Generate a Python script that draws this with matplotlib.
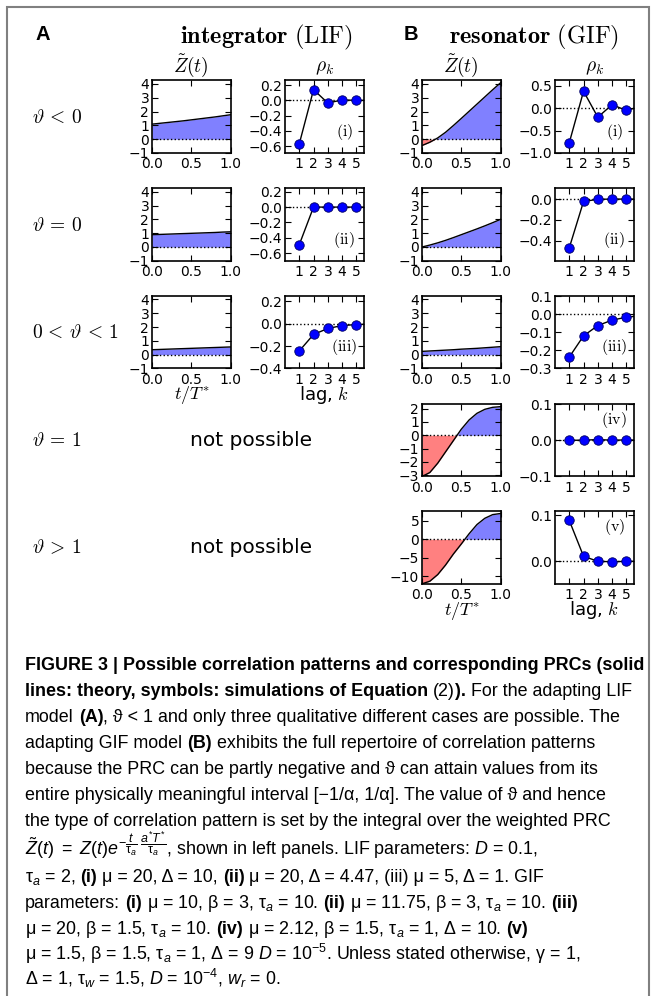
import matplotlib
matplotlib.use('Agg')
import matplotlib.pyplot as plt
import numpy as np
from matplotlib.patches import Rectangle

W, H = 656, 996

plt.rcParams['font.family'] = ['DejaVu Sans']
plt.rcParams['mathtext.fontset'] = 'custom'
plt.rcParams['mathtext.rm'] = 'Liberation Sans'
plt.rcParams['mathtext.it'] = 'Liberation Sans:italic'
plt.rcParams['mathtext.bf'] = 'Liberation Sans:bold'
plt.rcParams['xtick.direction'] = 'in'
plt.rcParams['ytick.direction'] = 'in'
plt.rcParams['xtick.top'] = True
plt.rcParams['ytick.right'] = True
plt.rcParams['xtick.major.size'] = 4
plt.rcParams['ytick.major.size'] = 4
plt.rcParams['xtick.major.pad'] = 3
plt.rcParams['ytick.major.pad'] = 2
plt.rcParams['xtick.labelsize'] = 10
plt.rcParams['ytick.labelsize'] = 10
plt.rcParams['axes.linewidth'] = 1.2

# weighted PRC, t/T* grid
t = [0.0, 0.1, 0.2, 0.3, 0.4, 0.5, 0.6, 0.7, 0.8, 0.9, 1.0]
z_lif_i = [1.09, 1.15, 1.21, 1.27, 1.33, 1.40, 1.47, 1.54, 1.61, 1.69, 1.77]
z_lif_ii = [0.89, 0.91, 0.93, 0.95, 0.97, 0.99, 1.01, 1.03, 1.05, 1.08, 1.10]
z_lif_iii = [0.36, 0.38, 0.40, 0.42, 0.44, 0.46, 0.48, 0.50, 0.52, 0.54, 0.56]
z_gif_i = [-0.46, -0.22, 0.09, 0.50, 0.99, 1.50, 2.02, 2.54, 3.06, 3.58, 4.08]
z_gif_ii = [0.0, 0.14, 0.30, 0.48, 0.68, 0.89, 1.10, 1.31, 1.53, 1.76, 2.0]
z_gif_iii = [0.24, 0.27, 0.30, 0.33, 0.36, 0.40, 0.43, 0.46, 0.50, 0.54, 0.58]
z_gif_iv = [-3.1, -2.8, -2.1, -1.25, -0.4, 0.45, 1.15, 1.65, 1.95, 2.1, 2.15]
z_gif_v = [-12.1, -11.4, -9.6, -7.0, -4.0, -1.3, 1.5, 4.0, 5.7, 6.7, 7.0]

# serial correlation coefficients, lags 1..6 (6 only for the theory line)
lags = [1, 2, 3, 4, 5, 6]
rho_lif_i = [-0.57, 0.14, -0.035, 0.005, 0.0, 0.0]
rho_lif_ii = [-0.49, 0.0, 0.0, 0.0, 0.0, 0.0]
rho_lif_iii = [-0.244, -0.097, -0.044, -0.018, -0.009, -0.004]
rho_gif_i = [-0.77, 0.38, -0.20, 0.08, -0.05, 0.04]
rho_gif_ii = [-0.47, -0.023, -0.002, 0.0, 0.0, 0.0]
rho_gif_iii = [-0.237, -0.12, -0.063, -0.033, -0.017, -0.009]
rho_gif_iv = [0.0, 0.0, 0.002, 0.0, 0.001, 0.0]
rho_gif_v = [0.089, 0.011, 0.0, -0.001, 0.0, 0.0]

row_labels = [r'$\vartheta\,<\,0$', r'$\vartheta\,=\,0$', r'$0\,<\,\vartheta\,<\,1$',
              r'$\vartheta\,=\,1$', r'$\vartheta\,>\,1$']

fig = plt.figure(figsize=(W / 100, H / 100), dpi=100)

row_top = [80.5, 188.3, 296.0, 404.0, 511.3]
ph = 72.5
col_x = {'az': 152, 'ar': 285, 'bz': 422, 'br': 555}
pw = 78.5


def box(x0, y0, w, h):
    return [x0 / W, 1 - (y0 + h) / H, w / W, h / H]


def z_panel(x0, y0, z, ylim, yticks):
    ax = fig.add_axes(box(x0, y0, pw, ph))
    z = np.array(z)
    ax.fill_between(t, z, 0, where=z >= 0, interpolate=True, color='#8080ff', lw=0)
    ax.fill_between(t, z, 0, where=z <= 0, interpolate=True, color='#ff8080', lw=0)
    ax.plot(t, z, color='k', lw=1)
    ax.axhline(0, color='k', ls=':', lw=1)
    ax.set_xlim(0, 1)
    ax.set_ylim(ylim)
    ax.set_xticks([0, 0.5, 1.0])
    ax.set_yticks(yticks)
    return ax


def rho_panel(x0, y0, rho, ylim, yticks, lab, top=False):
    ax = fig.add_axes(box(x0, y0, pw, ph))
    ax.axhline(0, color='k', ls=':', lw=1)
    ax.plot(lags, rho, color='k', lw=1, zorder=2)
    ax.plot(lags[:5], rho[:5], 'o', color='#0000ff', mec='#000060', mew=0.6,
            ms=6.8, zorder=3, clip_on=False)
    ax.set_xlim(0, 5.5)
    ax.set_ylim(ylim)
    ax.set_xticks([1, 2, 3, 4, 5])
    ax.set_yticks(yticks)
    ax.text(0.755, 0.78 if top else 0.29, lab, transform=ax.transAxes, ha='center',
            va='center', fontsize=11.5, math_fontfamily='cm')
    return ax


zl = (-1, 4.25)
zt = [-1, 0, 1, 2, 3, 4]
z_panel(col_x['az'], row_top[0], z_lif_i, zl, zt)
z_panel(col_x['az'], row_top[1], z_lif_ii, zl, zt)
z_panel(col_x['az'], row_top[2], z_lif_iii, zl, zt)
z_panel(col_x['bz'], row_top[0], z_gif_i, zl, zt)
z_panel(col_x['bz'], row_top[1], z_gif_ii, zl, zt)
z_panel(col_x['bz'], row_top[2], z_gif_iii, zl, zt)
z_panel(col_x['bz'], row_top[3], z_gif_iv, (-3.1, 2.35), [-3, -2, -1, 0, 1, 2])
z_panel(col_x['bz'], row_top[4], z_gif_v, (-12.1, 7.6), [-10, -5, 0, 5])

rt = [-0.6, -0.4, -0.2, 0.0, 0.2]
rho_panel(col_x['ar'], row_top[0], rho_lif_i, (-0.69, 0.26), rt, r'$\mathrm{(i)}$')
rho_panel(col_x['ar'], row_top[1], rho_lif_ii, (-0.70, 0.245), rt, r'$\mathrm{(ii)}$')
rho_panel(col_x['ar'], row_top[2], rho_lif_iii, (-0.40, 0.245), [-0.4, -0.2, 0.0, 0.2],
          r'$\mathrm{(iii)}$')
rho_panel(col_x['br'], row_top[0], rho_gif_i, (-1.0, 0.62), [-1.0, -0.5, 0.0, 0.5],
          r'$\mathrm{(i)}$')
rho_panel(col_x['br'], row_top[1], rho_gif_ii, (-0.595, 0.104), [-0.4, -0.2, 0.0],
          r'$\mathrm{(ii)}$')
rho_panel(col_x['br'], row_top[2], rho_gif_iii, (-0.3, 0.1),
          [-0.3, -0.2, -0.1, 0.0, 0.1], r'$\mathrm{(iii)}$')
rho_panel(col_x['br'], row_top[3], rho_gif_iv, (-0.1, 0.1), [-0.1, 0.0, 0.1],
          r'$\mathrm{(iv)}$', top=True)
rho_panel(col_x['br'], row_top[4], rho_gif_v, (-0.049, 0.109), [0.0, 0.1],
          r'$\mathrm{(v)}$', top=True)


def ftext(x, y, s, **kw):
    kw.setdefault('math_fontfamily', 'cm')
    return fig.text(x / W, 1 - y / H, s, **kw)


# headings
ftext(36, 35, 'A', fontsize=14.5, fontweight='bold', family='Liberation Sans', va='center')
ftext(404, 35, 'B', fontsize=14.5, fontweight='bold', family='Liberation Sans', va='center')
ftext(266, 43, r'$\mathbf{integrator}\ \mathrm{(LIF)}$', fontsize=17.5, ha='center', va='baseline')
ftext(534, 43, r'$\mathbf{resonator}\ \mathrm{(GIF)}$', fontsize=17.5, ha='center', va='baseline')
for cx in ('az', 'bz'):
    ftext(col_x[cx] + pw / 2, 71.5, r'$\tilde{Z}(t)$', fontsize=14, ha='center', va='baseline')
for cx in ('ar', 'br'):
    ftext(col_x[cx] + pw / 2, 71.5, r'$\rho_k$', fontsize=14, ha='center', va='baseline')

for i, lab in enumerate(row_labels):
    ftext(32, row_top[i] + ph / 2 + 6, lab, fontsize=14, va='baseline')
for i in (3, 4):
    ftext(251, row_top[i] + ph / 2, 'not possible', fontsize=14.5, ha='center', va='center')

xl_off = ph + 31
ftext(col_x['az'] + pw / 2, row_top[2] + xl_off, r'$t/T^{*}$', fontsize=13, ha='center', va='baseline')
ftext(col_x['ar'] + pw / 2, row_top[2] + xl_off, r'lag, $k$', fontsize=13, ha='center', va='baseline')
ftext(col_x['bz'] + pw / 2, row_top[4] + xl_off, r'$t/T^{*}$', fontsize=13, ha='center', va='baseline')
ftext(col_x['br'] + pw / 2, row_top[4] + xl_off, r'lag, $k$', fontsize=13, ha='center', va='baseline')

# caption, drawn segment by segment so bold pieces can sit inside a line
cap_lines = [
    [('FIGURE 3 | Possible correlation patterns and corresponding PRCs (solid', True)],
    [('lines: theory, symbols: simulations of Equation ', True), ('(2)', False),
     (').', True), (' For the adapting LIF', False)],
    [('model ', False), ('(A)', True),
     (', ϑ < 1 and only three qualitative different cases are possible. The', False)],
    [('adapting GIF model ', False), ('(B)', True),
     (' exhibits the full repertoire of correlation patterns', False)],
    [('because the PRC can be partly negative and ϑ can attain values from its', False)],
    [('entire physically meaningful interval [−1/α, 1/α]. The value of ϑ and hence', False)],
    [('the type of correlation pattern is set by the integral over the weighted PRC', False)],
    [(r'$\tilde{Z}(t)\ =\ Z(t)e^{-\dfrac{t}{\mathrm{\tau}_a}\ \dfrac{a^{*}T^{*}}{\mathrm{\tau}_a}}$'
      r', shown in left panels. LIF parameters: $D$ = 0.1,', False)],
    [('τ$_a$ = 2, ', False), ('(i)', True), (' μ = 20, Δ = 10, ', False), ('(ii)', True),
     (' μ = 20, Δ = 4.47, (iii) μ = 5, Δ = 1. GIF', False)],
    [('parameters: ', False), ('(i)', True), (' μ = 10, β = 3, τ$_a$ = 10. ', False),
     ('(ii)', True), (' μ = 11.75, β = 3, τ$_a$ = 10. ', False), ('(iii)', True)],
    [('μ = 20, β = 1.5, τ$_a$ = 10. ', False), ('(iv)', True),
     (' μ = 2.12, β = 1.5, τ$_a$ = 1, Δ = 10. ', False), ('(v)', True)],
    [('μ = 1.5, β = 1.5, τ$_a$ = 1, Δ = 9 $D$ = 10$^{-5}$. Unless stated otherwise, γ = 1,', False)],
    [('Δ = 1, τ$_w$ = 1.5, $D$ = 10$^{-4}$, $w_r$ = 0.', False)],
]
cap_base = [670, 696, 722, 748, 774, 800, 826, 855, 882, 908, 934, 960, 985]
cap_fs = 12.9
cap_family = ['Liberation Sans', 'DejaVu Sans']
cap_x0 = 25

renderer = fig.canvas.get_renderer()
ta = fig.text(0, 0, 'a a', fontsize=cap_fs, family=cap_family)
tb = fig.text(0, 0, 'aa', fontsize=cap_fs, family=cap_family)
space_w = ta.get_window_extent(renderer).width - tb.get_window_extent(renderer).width
ta.remove()
tb.remove()

for y, parts in zip(cap_base, cap_lines):
    x = cap_x0
    for s, bold in parts:
        lead = len(s) - len(s.lstrip(' '))
        trail = len(s) - len(s.rstrip(' '))
        x += lead * space_w
        txt = fig.text(x / W, 1 - y / H, s.strip(' '), fontsize=cap_fs, family=cap_family,
                       fontweight='bold' if bold else 'normal', math_fontfamily='custom',
                       va='baseline', ha='left')
        x = txt.get_window_extent(renderer).x1 + trail * space_w

fig.patches.append(Rectangle((7 / W, -0.01), (649 - 7) / W, 1 - 7 / H + 0.01,
                             transform=fig.transFigure, fill=False,
                             edgecolor='#808080', lw=1.5))

fig.savefig('out.png', dpi=100)
